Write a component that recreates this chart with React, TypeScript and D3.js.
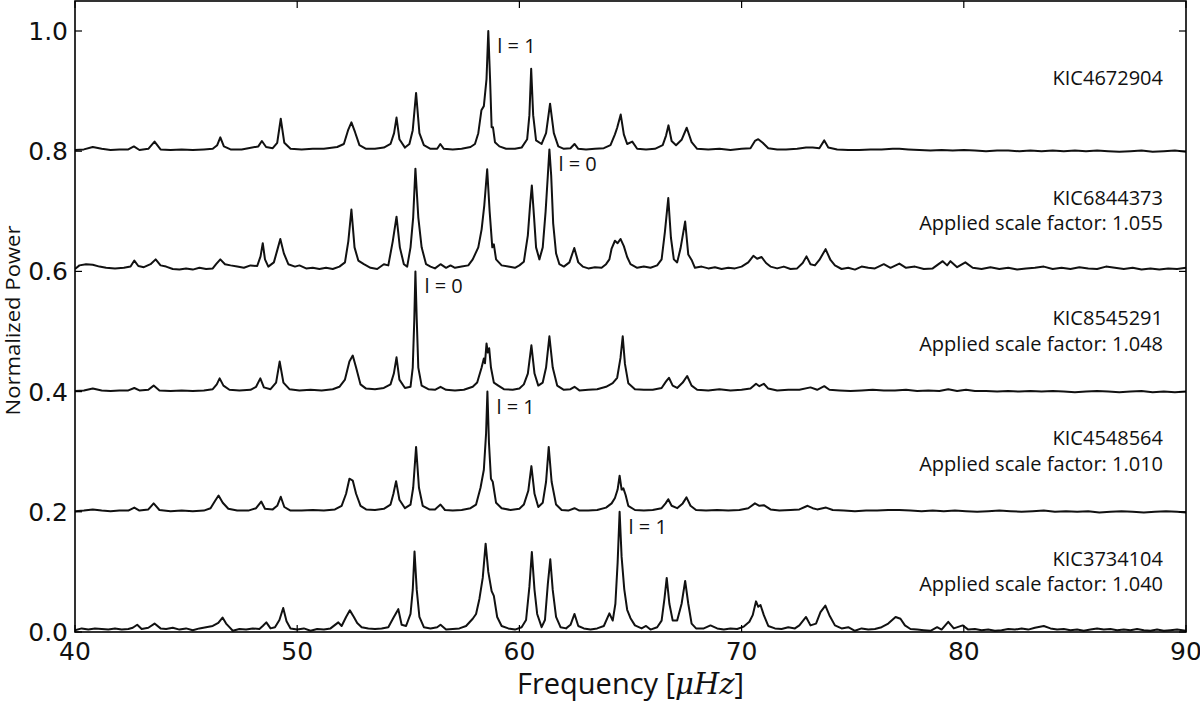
import React from "react";
import * as d3 from "d3";

// ---------- data (frequency in µHz, normalized power above each offset) ----------
const STARS = ["KIC4672904", "KIC6844373", "KIC8545291", "KIC4548564", "KIC3734104"];
const OFFSETS = [0.8, 0.6, 0.4, 0.2, 0.0];
const SCALE_FACTORS = ["", "1.055", "1.048", "1.010", "1.040"];
const MODE_LABELS = ["l = 1", "l = 0", "l = 0", "l = 1", "l = 1"];
const MODE_FREQS = [58.6, 61.35, 55.32, 58.56, 64.51];
const X_TICKS = [40, 50, 60, 70, 80, 90];
const Y_TICKS = [0.0, 0.2, 0.4, 0.6, 0.8, 1.0];

const KIC4672904: [number, number][] = [
  [40.0,0.002],[40.4,0.003],[40.8,0.007],[41.2,0.004],[41.6,0.002],[42.0,0.003],[42.4,0.003],[42.65,0.008],[42.9,0.002],
  [43.3,0.004],[43.58,0.016],[43.85,0.003],[44.3,0.002],[44.8,0.003],[45.3,0.002],[45.8,0.003],[46.2,0.004],[46.4,0.01],
  [46.54,0.023],[46.7,0.008],[47.0,0.003],[47.5,0.003],[47.8,0.005],[48.25,0.008],[48.41,0.017],[48.6,0.007],[48.9,0.005],
  [49.1,0.014],[49.26,0.054],[49.42,0.014],[49.7,0.004],[50.2,0.003],[50.7,0.004],[51.2,0.004],[51.8,0.007],[52.1,0.012],
  [52.3,0.036],[52.44,0.048],[52.6,0.032],[52.8,0.01],[53.1,0.004],[53.5,0.004],[53.9,0.006],[54.2,0.012],[54.36,0.03],
  [54.47,0.056],[54.6,0.02],[54.85,0.006],[55.05,0.012],[55.2,0.035],[55.35,0.097],[55.5,0.03],[55.7,0.01],[56.0,0.004],
  [56.3,0.004],[56.44,0.012],[56.6,0.004],[57.0,0.003],[57.4,0.004],[57.8,0.007],[58.0,0.012],[58.15,0.03],[58.29,0.068],
  [58.4,0.075],[58.52,0.12],[58.6,0.2],[58.68,0.12],[58.75,0.04],[58.81,0.04],[58.9,0.015],[59.1,0.008],[59.4,0.004],
  [59.8,0.004],[60.1,0.006],[60.35,0.02],[60.45,0.06],[60.53,0.137],[60.62,0.06],[60.75,0.018],[61.0,0.012],[61.2,0.03],
  [61.38,0.079],[61.55,0.03],[61.75,0.008],[62.0,0.004],[62.3,0.005],[62.48,0.012],[62.65,0.004],[63.0,0.003],[63.4,0.004],
  [63.8,0.005],[64.1,0.01],[64.3,0.028],[64.4,0.039],[64.56,0.061],[64.7,0.028],[64.85,0.012],[65.08,0.016],[65.3,0.004],
  [65.7,0.003],[66.1,0.004],[66.45,0.01],[66.6,0.026],[66.71,0.043],[66.85,0.017],[67.05,0.01],[67.3,0.019],[67.53,0.039],
  [67.75,0.015],[68.0,0.004],[68.5,0.003],[69.0,0.004],[69.5,0.002],[70.0,0.004],[70.4,0.005],[70.6,0.017],[70.75,0.02],
  [70.95,0.014],[71.2,0.005],[71.6,0.003],[72.0,0.003],[72.5,0.004],[72.9,0.006],[73.2,0.006],[73.5,0.005],[73.72,0.018],
  [73.9,0.006],[74.3,0.003],[74.8,0.002],[75.3,0.002],[75.8,0.003],[76.3,0.003],[76.8,0.004],[77.1,0.004],[77.5,0.003],
  [78.0,0.002],[78.5,0.001],[79.0,0.002],[79.5,0.001],[80.0,0.002],[80.5,0.001],[81.0,0.0],[81.5,0.001],[82.0,0.001],
  [82.5,0.0],[83.0,0.001],[83.5,0.0],[84.0,0.001],[84.5,0.0],[85.0,0.001],[85.5,0.0],[86.0,0.001],[86.5,0.0],[87.0,-0.001],
  [87.5,0.0],[88.0,0.001],[88.5,-0.001],[89.0,0.0],[89.5,0.001],[90.0,-0.001],
];

const KIC6844373: [number, number][] = [
  [40.0,0.004],[40.2,0.01],[40.5,0.012],[40.8,0.011],[41.1,0.008],[41.4,0.006],[41.8,0.005],[42.2,0.006],[42.5,0.008],
  [42.67,0.018],[42.85,0.009],[43.1,0.007],[43.4,0.012],[43.63,0.02],[43.85,0.01],[44.1,0.008],[44.4,0.004],[44.7,0.003],
  [45.0,0.005],[45.3,0.003],[45.6,0.006],[45.9,0.004],[46.2,0.005],[46.35,0.012],[46.54,0.02],[46.75,0.012],[47.0,0.01],
  [47.3,0.008],[47.6,0.006],[47.9,0.01],[48.2,0.009],[48.35,0.025],[48.45,0.047],[48.55,0.02],[48.7,0.008],[48.95,0.015],
  [49.1,0.035],[49.24,0.054],[49.4,0.03],[49.6,0.012],[49.9,0.008],[50.1,0.01],[50.4,0.005],[50.7,0.006],[51.0,0.004],
  [51.3,0.006],[51.6,0.004],[51.9,0.008],[52.15,0.015],[52.3,0.05],[52.44,0.103],[52.58,0.04],[52.75,0.018],[53.0,0.012],
  [53.3,0.006],[53.6,0.004],[53.9,0.012],[54.1,0.01],[54.3,0.05],[54.47,0.091],[54.62,0.04],[54.8,0.012],[54.95,0.008],
  [55.1,0.04],[55.22,0.09],[55.32,0.171],[55.45,0.09],[55.6,0.04],[55.8,0.012],[56.0,0.008],[56.2,0.005],[56.45,0.012],
  [56.7,0.006],[56.9,0.01],[57.1,0.006],[57.4,0.008],[57.7,0.01],[57.9,0.02],[58.15,0.04],[58.3,0.07],[58.42,0.11],
  [58.55,0.17],[58.66,0.1],[58.78,0.04],[58.85,0.045],[58.95,0.02],[59.2,0.01],[59.5,0.008],[59.8,0.006],[60.0,0.01],
  [60.2,0.016],[60.38,0.06],[60.48,0.11],[60.56,0.143],[60.66,0.09],[60.75,0.04],[60.9,0.02],[61.05,0.04],[61.18,0.1],
  [61.28,0.16],[61.35,0.203],[61.43,0.16],[61.52,0.08],[61.65,0.03],[61.8,0.012],[62.0,0.008],[62.25,0.015],[62.47,0.039],
  [62.65,0.015],[62.85,0.008],[63.1,0.005],[63.4,0.007],[63.7,0.006],[63.9,0.012],[64.05,0.02],[64.15,0.038],[64.3,0.051],
  [64.42,0.047],[64.55,0.054],[64.7,0.042],[64.85,0.024],[65.0,0.012],[65.3,0.006],[65.6,0.008],[65.9,0.006],[66.2,0.01],
  [66.4,0.02],[66.55,0.066],[66.7,0.122],[66.82,0.056],[66.95,0.02],[67.1,0.015],[67.25,0.038],[67.46,0.083],[67.6,0.028],
  [67.75,0.019],[67.9,0.006],[68.2,0.008],[68.5,0.005],[68.8,0.007],[69.1,0.004],[69.4,0.006],[69.7,0.005],[70.0,0.008],
  [70.3,0.015],[70.53,0.026],[70.7,0.021],[70.9,0.024],[71.1,0.014],[71.3,0.008],[71.6,0.005],[71.9,0.008],[72.2,0.004],
  [72.5,0.005],[72.75,0.014],[72.92,0.025],[73.1,0.012],[73.3,0.01],[73.5,0.019],[73.78,0.037],[74.0,0.019],[74.2,0.01],
  [74.5,0.004],[74.8,0.006],[75.1,0.003],[75.4,0.008],[75.7,0.006],[76.0,0.005],[76.4,0.012],[76.7,0.006],[77.1,0.013],
  [77.4,0.006],[77.8,0.008],[78.2,0.004],[78.6,0.005],[79.05,0.017],[79.25,0.01],[79.4,0.017],[79.7,0.007],[80.07,0.015],
  [80.4,0.006],[80.8,0.004],[81.2,0.007],[81.6,0.004],[82.0,0.006],[82.4,0.003],[82.8,0.005],[83.2,0.006],[83.6,0.008],
  [84.0,0.004],[84.4,0.006],[84.8,0.004],[85.2,0.007],[85.6,0.005],[86.0,0.004],[86.4,0.008],[86.8,0.006],[87.2,0.004],
  [87.6,0.006],[88.0,0.003],[88.4,0.005],[88.8,0.003],[89.2,0.005],[89.6,0.004],[90.0,0.006],
];

const KIC8545291: [number, number][] = [
  [40.0,0.001],[40.4,0.002],[40.8,0.005],[41.2,0.002],[41.6,0.001],[42.0,0.002],[42.4,0.002],[42.67,0.006],[42.9,0.002],
  [43.3,0.003],[43.54,0.01],[43.8,0.002],[44.3,0.001],[44.8,0.002],[45.3,0.001],[45.8,0.002],[46.2,0.004],[46.38,0.012],
  [46.51,0.022],[46.68,0.01],[46.95,0.003],[47.4,0.002],[47.9,0.003],[48.15,0.008],[48.34,0.022],[48.5,0.007],[48.8,0.004],
  [49.05,0.015],[49.21,0.05],[49.38,0.015],[49.65,0.004],[50.1,0.002],[50.6,0.003],[51.1,0.002],[51.6,0.004],[51.9,0.008],
  [52.15,0.02],[52.35,0.05],[52.5,0.06],[52.65,0.04],[52.85,0.012],[53.1,0.005],[53.5,0.004],[53.9,0.006],[54.2,0.012],
  [54.35,0.03],[54.47,0.057],[54.6,0.02],[54.85,0.006],[55.1,0.008],[55.2,0.04],[55.27,0.12],[55.32,0.2],[55.38,0.12],
  [55.45,0.04],[55.6,0.01],[55.9,0.004],[56.2,0.003],[56.45,0.008],[56.7,0.003],[57.1,0.002],[57.5,0.003],[57.9,0.008],
  [58.1,0.015],[58.3,0.04],[58.4,0.055],[58.45,0.047],[58.52,0.08],[58.58,0.065],[58.64,0.072],[58.72,0.04],[58.85,0.015],
  [59.05,0.01],[59.3,0.004],[59.7,0.003],[60.0,0.005],[60.2,0.012],[60.38,0.03],[60.54,0.077],[60.68,0.03],[60.85,0.01],
  [61.05,0.015],[61.2,0.04],[61.35,0.092],[61.5,0.04],[61.7,0.01],[62.0,0.003],[62.3,0.004],[62.48,0.008],[62.7,0.002],
  [63.1,0.003],[63.5,0.004],[63.9,0.008],[64.2,0.014],[64.4,0.023],[64.55,0.056],[64.65,0.092],[64.75,0.046],[64.9,0.014],
  [65.2,0.004],[65.6,0.003],[66.0,0.003],[66.4,0.006],[66.6,0.017],[66.73,0.023],[66.9,0.01],[67.1,0.006],[67.35,0.015],
  [67.55,0.026],[67.75,0.01],[68.0,0.003],[68.5,0.002],[69.0,0.004],[69.5,0.002],[70.0,0.003],[70.4,0.005],[70.65,0.013],
  [70.8,0.009],[71.0,0.013],[71.2,0.005],[71.6,0.002],[72.1,0.003],[72.6,0.003],[73.1,0.007],[73.4,0.003],[73.72,0.009],
  [73.95,0.003],[74.4,0.002],[74.9,0.001],[75.4,0.002],[75.9,0.003],[76.4,0.002],[76.9,0.002],[77.4,0.003],[77.9,0.001],
  [78.4,0.002],[78.9,0.001],[79.3,0.004],[79.7,0.001],[80.1,0.003],[80.5,0.001],[81.0,0.001],[81.5,0.0],[82.0,0.001],
  [82.5,0.0],[83.0,0.001],[83.5,0.0],[84.0,0.001],[84.5,0.0],[85.0,-0.001],[85.5,0.0],[86.0,0.001],[86.5,0.0],[87.0,-0.001],
  [87.5,0.0],[88.0,0.001],[88.5,-0.001],[89.0,0.0],[89.5,-0.001],[90.0,0.0],
];

const KIC4548564: [number, number][] = [
  [40.0,0.001],[40.4,0.002],[40.8,0.004],[41.2,0.002],[41.6,0.001],[42.0,0.002],[42.4,0.002],[42.67,0.007],[42.9,0.002],
  [43.3,0.004],[43.54,0.014],[43.8,0.003],[44.3,0.001],[44.8,0.002],[45.3,0.001],[45.8,0.002],[46.1,0.006],[46.3,0.018],
  [46.46,0.027],[46.65,0.015],[46.9,0.005],[47.3,0.002],[47.8,0.002],[48.15,0.006],[48.38,0.017],[48.55,0.005],[48.9,0.004],
  [49.1,0.01],[49.26,0.025],[49.42,0.008],[49.7,0.002],[50.2,0.002],[50.7,0.003],[51.2,0.002],[51.7,0.004],[52.0,0.01],
  [52.2,0.03],[52.35,0.055],[52.5,0.052],[52.65,0.03],[52.85,0.01],[53.1,0.004],[53.5,0.003],[53.9,0.005],[54.2,0.012],
  [54.33,0.03],[54.45,0.051],[54.6,0.02],[54.85,0.006],[55.1,0.012],[55.22,0.04],[55.35,0.108],[55.48,0.04],[55.65,0.01],
  [55.95,0.004],[56.2,0.004],[56.45,0.012],[56.65,0.003],[57.0,0.002],[57.4,0.003],[57.8,0.006],[58.05,0.012],[58.25,0.04],
  [58.4,0.07],[58.5,0.13],[58.56,0.2],[58.63,0.115],[58.72,0.055],[58.8,0.05],[58.95,0.015],[59.2,0.006],[59.6,0.003],
  [60.0,0.005],[60.2,0.012],[60.4,0.035],[60.54,0.076],[60.68,0.03],[60.85,0.008],[61.05,0.015],[61.2,0.05],[61.32,0.108],
  [61.45,0.05],[61.65,0.012],[61.9,0.003],[62.2,0.002],[62.48,0.006],[62.7,0.002],[63.1,0.002],[63.5,0.003],[63.9,0.007],
  [64.15,0.014],[64.3,0.023],[64.42,0.037],[64.51,0.06],[64.6,0.037],[64.68,0.039],[64.78,0.028],[64.9,0.01],[65.2,0.003],
  [65.6,0.002],[66.0,0.003],[66.4,0.006],[66.58,0.014],[66.7,0.021],[66.85,0.01],[67.1,0.006],[67.35,0.014],[67.52,0.024],
  [67.7,0.01],[67.95,0.003],[68.4,0.002],[68.9,0.003],[69.4,0.002],[69.9,0.003],[70.3,0.006],[70.6,0.014],[70.8,0.01],
  [71.0,0.011],[71.3,0.004],[71.7,0.002],[72.2,0.003],[72.6,0.004],[72.97,0.01],[73.2,0.006],[73.4,0.004],[73.8,0.007],
  [74.1,0.003],[74.6,0.002],[75.1,0.001],[75.6,0.002],[76.1,0.002],[76.6,0.003],[77.1,0.003],[77.6,0.002],[78.1,0.001],
  [78.6,0.002],[79.1,0.001],[79.6,0.002],[80.1,0.001],[80.6,0.0],[81.1,0.001],[81.6,0.002],[82.1,0.001],[82.6,0.0],
  [83.1,0.001],[83.6,0.002],[84.1,0.0],[84.6,0.001],[85.1,0.0],[85.6,0.001],[86.1,-0.001],[86.6,0.0],[87.1,0.001],
  [87.6,0.0],[88.1,-0.001],[88.6,0.0],[89.1,0.001],[89.6,0.0],[90.0,-0.001],
];

const KIC3734104: [number, number][] = [
  [40.0,0.003],[40.3,0.006],[40.6,0.004],[40.9,0.006],[41.2,0.005],[41.5,0.004],[41.8,0.006],[42.1,0.004],[42.4,0.005],
  [42.6,0.007],[42.8,0.012],[43.0,0.005],[43.3,0.007],[43.58,0.014],[43.85,0.006],[44.1,0.005],[44.4,0.007],[44.7,0.004],
  [45.0,0.006],[45.3,0.003],[45.6,0.006],[45.9,0.008],[46.2,0.01],[46.45,0.015],[46.64,0.024],[46.8,0.014],[46.95,0.008],
  [47.1,0.002],[47.4,0.005],[47.7,0.004],[48.0,0.006],[48.3,0.005],[48.45,0.01],[48.61,0.016],[48.8,0.006],[49.0,0.008],
  [49.2,0.02],[49.37,0.04],[49.52,0.018],[49.7,0.006],[50.0,0.004],[50.3,0.006],[50.6,0.002],[50.9,0.005],[51.2,0.004],
  [51.5,0.006],[51.85,0.016],[52.0,0.01],[52.2,0.025],[52.37,0.036],[52.55,0.025],[52.7,0.015],[52.9,0.008],[53.2,0.006],
  [53.5,0.005],[53.8,0.006],[54.1,0.008],[54.35,0.025],[54.55,0.038],[54.7,0.012],[54.9,0.01],[55.1,0.03],[55.2,0.07],
  [55.28,0.134],[55.38,0.07],[55.5,0.025],[55.7,0.008],[56.0,0.006],[56.3,0.008],[56.45,0.012],[56.7,0.004],[57.0,0.005],
  [57.3,0.006],[57.6,0.01],[57.9,0.022],[58.05,0.03],[58.2,0.055],[58.35,0.09],[58.48,0.147],[58.6,0.1],[58.75,0.068],
  [58.85,0.06],[59.0,0.025],[59.2,0.01],[59.5,0.006],[59.8,0.004],[60.1,0.008],[60.3,0.02],[60.45,0.075],[60.56,0.133],
  [60.68,0.07],[60.8,0.03],[61.0,0.008],[61.15,0.02],[61.28,0.08],[61.39,0.121],[61.5,0.07],[61.65,0.025],[61.85,0.008],
  [62.1,0.006],[62.3,0.012],[62.48,0.03],[62.65,0.01],[62.9,0.006],[63.2,0.004],[63.5,0.006],[63.8,0.01],[64.05,0.031],
  [64.2,0.019],[64.32,0.047],[64.42,0.115],[64.51,0.2],[64.6,0.125],[64.72,0.071],[64.85,0.037],[65.0,0.023],[65.2,0.011],
  [65.5,0.006],[65.7,0.01],[65.9,0.004],[66.2,0.008],[66.4,0.019],[66.53,0.056],[66.63,0.09],[66.75,0.047],[66.9,0.019],
  [67.1,0.019],[67.3,0.047],[67.46,0.085],[67.6,0.047],[67.75,0.014],[67.95,0.006],[68.3,0.006],[68.6,0.011],[68.9,0.006],
  [69.2,0.004],[69.5,0.006],[69.8,0.005],[70.1,0.009],[70.35,0.017],[70.5,0.028],[70.65,0.051],[70.75,0.042],[70.85,0.045],
  [71.0,0.028],[71.2,0.01],[71.5,0.006],[71.8,0.005],[72.1,0.008],[72.4,0.006],[72.6,0.011],[72.9,0.025],[73.1,0.011],
  [73.35,0.014],[73.55,0.033],[73.77,0.044],[73.95,0.028],[74.2,0.011],[74.5,0.006],[74.8,0.008],[75.1,0.002],[75.4,0.006],
  [75.7,0.004],[76.0,0.005],[76.3,0.008],[76.6,0.014],[76.93,0.025],[77.15,0.022],[77.35,0.011],[77.6,0.005],[77.9,0.004],
  [78.2,0.003],[78.5,0.002],[78.8,0.008],[79.0,0.004],[79.3,0.017],[79.55,0.006],[79.95,0.011],[80.2,0.004],[80.5,0.005],
  [80.8,0.003],[81.1,0.004],[81.4,0.002],[81.7,0.003],[82.0,0.005],[82.3,0.004],[82.6,0.006],[82.9,0.004],[83.2,0.007],
  [83.6,0.01],[83.9,0.006],[84.2,0.004],[84.5,0.005],[84.8,0.003],[85.1,0.004],[85.4,0.002],[85.7,0.004],[86.0,0.006],
  [86.3,0.004],[86.6,0.005],[86.9,0.003],[87.2,0.004],[87.5,0.003],[87.8,0.005],[88.1,0.003],[88.4,0.002],[88.7,0.004],
  [89.0,0.002],[89.3,0.003],[89.6,0.004],[90.0,0.002],
];

const SPECTRA = [KIC4672904, KIC6844373, KIC8545291, KIC4548564, KIC3734104];

// ---------- layout ----------
const W = 1200;
const H = 701;
const PL = 75, PR = 1186, PT = 1, PB = 632;

export default function App() {
  const x = d3.scaleLinear().domain([40, 90]).range([PL, PR]);
  const y = d3.scaleLinear().domain([0, 1.0]).range([PB, 31]);
  const line = d3
    .line<[number, number]>()
    .x((d) => x(d[0]))
    .y((d) => d[1]);

  const sans = "'Open Sans', sans-serif";
  const tickFont = "'DejaVu Sans', sans-serif";
  const tickLen = 7;

  return (
    <svg
      width={W}
      height={H}
      viewBox={`0 0 ${W} ${H}`}
      style={{ position: "absolute", left: 0, top: 0, background: "#fff" }}
    >
      <rect x={0} y={0} width={W} height={H} fill="#fff" />
      <defs>
        <clipPath id="plot">
          <rect x={PL} y={PT} width={PR - PL} height={PB - PT} />
        </clipPath>
      </defs>

      {/* spectra */}
      <g clipPath="url(#plot)">
        {SPECTRA.map((s, i) => (
          <path
            key={STARS[i]}
            d={line(s.map((d) => [d[0], y(d[1] + OFFSETS[i])] as [number, number])) || ""}
            fill="none"
            stroke="#111"
            strokeWidth={2}
            strokeLinejoin="round"
          />
        ))}
      </g>

      {/* frame */}
      <rect x={PL} y={PT} width={PR - PL} height={PB - PT} fill="none" stroke="#000" strokeWidth={1.6} />

      {/* y ticks */}
      {Y_TICKS.map((t) => (
        <g key={"y" + t}>
          <line x1={PL} x2={PL + tickLen} y1={y(t)} y2={y(t)} stroke="#000" strokeWidth={1.2} />
          <line x1={PR} x2={PR - tickLen} y1={y(t)} y2={y(t)} stroke="#000" strokeWidth={1.2} />
          <text
            x={PL - 7}
            y={y(t)}
            dy="0.36em"
            textAnchor="end"
            fontFamily={tickFont}
            fontSize={25}
            fill="#111"
          >
            {d3.format(".1f")(t)}
          </text>
        </g>
      ))}

      {/* x ticks */}
      {X_TICKS.map((t) => (
        <g key={"x" + t}>
          <line x1={x(t)} x2={x(t)} y1={PB} y2={PB - tickLen} stroke="#000" strokeWidth={1.2} />
          <line x1={x(t)} x2={x(t)} y1={PT} y2={PT + tickLen} stroke="#000" strokeWidth={1.2} />
          <text
            x={x(t)}
            y={PB + 28}
            textAnchor="middle"
            fontFamily={tickFont}
            fontSize={25}
            fill="#111"
          >
            {t}
          </text>
        </g>
      ))}

      {/* axis labels */}
      <text
        x={(PL + PR) / 2}
        y={694}
        textAnchor="middle"
        fontFamily={sans}
        fontSize={29}
        fill="#111"
      >
        Frequency [
        <tspan fontFamily="'DejaVu Serif', serif" fontStyle="italic">
          μHz
        </tspan>
        ]
      </text>
      <text
        transform={`translate(20, ${(PT + PB) / 2 + 4}) rotate(-90)`}
        textAnchor="middle"
        fontFamily={sans}
        fontSize={20}
        textLength={190}
        lengthAdjust="spacingAndGlyphs"
        fill="#111"
      >
        Normalized Power
      </text>

      {/* star labels */}
      {STARS.map((name, i) => (
        <g key={"lab" + name}>
          <text
            x={PR - 23}
            y={y(OFFSETS[i] + 0.122)}
            dy="0.35em"
            textAnchor="end"
            fontFamily={sans}
            fontSize={20}
            fill="#111"
          >
            {name}
          </text>
          {SCALE_FACTORS[i] && (
            <text
              x={PR - 23}
              y={y(OFFSETS[i] + 0.08)}
              dy="0.35em"
              textAnchor="end"
              fontFamily={sans}
              fontSize={20}
              fill="#111"
            >
              {"Applied scale factor: " + SCALE_FACTORS[i]}
            </text>
          )}
        </g>
      ))}

      {/* mode labels */}
      {MODE_LABELS.map((lab, i) => {
        const peak = d3.max(SPECTRA[i], (d) => d[1]) || 0;
        return (
          <text
            key={"m" + i}
            x={x(MODE_FREQS[i]) + 9}
            y={y(OFFSETS[i] + peak) + 22}
            fontFamily={sans}
            fontSize={20}
            fill="#111"
          >
            {lab}
          </text>
        );
      })}
    </svg>
  );
}
